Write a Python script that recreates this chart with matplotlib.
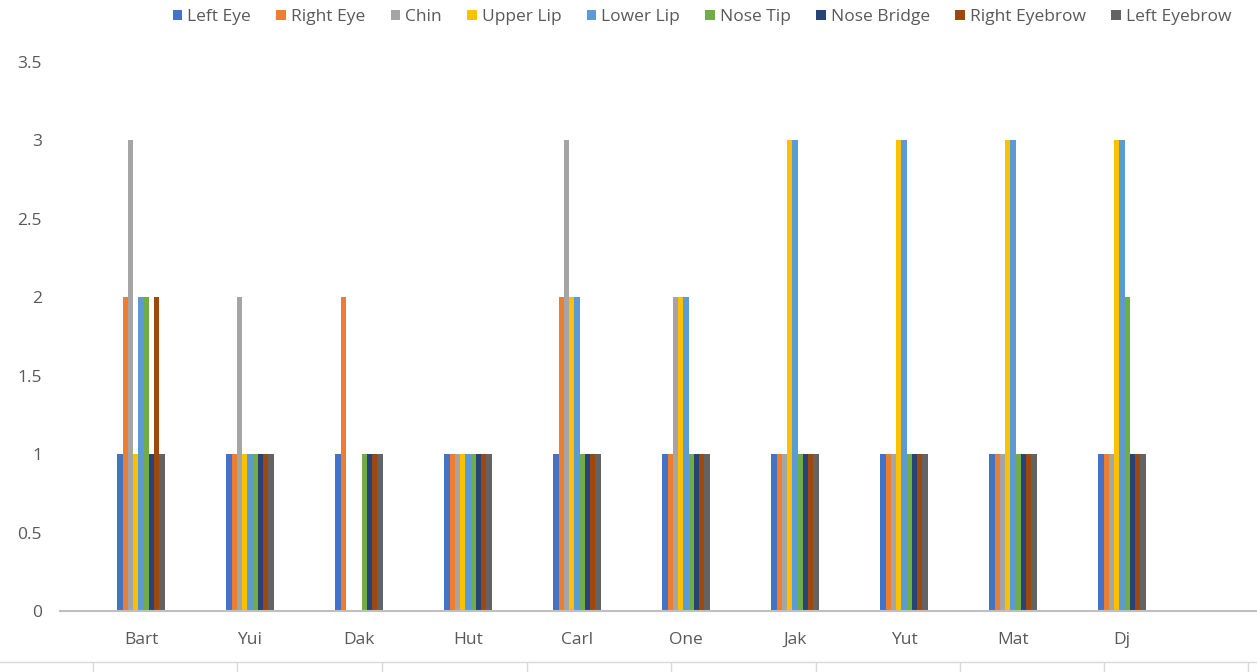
import matplotlib
matplotlib.use("Agg")
import matplotlib.pyplot as plt
from matplotlib.lines import Line2D
from matplotlib.patches import Patch
import numpy as np

plt.rcParams['font.family'] = ['Open Sans', 'DejaVu Sans']

people = ["Bart", "Yui", "Dak", "Hut", "Carl", "One", "Jak", "Yut", "Mat", "Dj"]

left_eye      = [1, 1, 1, 1, 1, 1, 1, 1, 1, 1]
right_eye     = [2, 1, 2, 1, 2, 1, 1, 1, 1, 1]
chin          = [3, 2, 0, 1, 3, 2, 1, 1, 1, 1]
upper_lip     = [1, 1, 0, 1, 2, 2, 3, 3, 3, 3]
lower_lip     = [2, 1, 0, 1, 2, 2, 3, 3, 3, 3]
nose_tip      = [2, 1, 1, 1, 1, 1, 1, 1, 1, 2]
nose_bridge   = [1, 1, 1, 1, 1, 1, 1, 1, 1, 1]
right_eyebrow = [2, 1, 1, 1, 1, 1, 1, 1, 1, 1]
left_eyebrow  = [1, 1, 1, 1, 1, 1, 1, 1, 1, 1]

series_names = ["Left Eye", "Right Eye", "Chin", "Upper Lip", "Lower Lip",
                "Nose Tip", "Nose Bridge", "Right Eyebrow", "Left Eyebrow"]
series_values = [left_eye, right_eye, chin, upper_lip, lower_lip,
                 nose_tip, nose_bridge, right_eyebrow, left_eyebrow]
colors = ["#4472C4", "#ED7D31", "#A5A5A5", "#FFC000", "#5B9BD5",
          "#70AD47", "#264478", "#9E480E", "#636363"]

W, H = 1257, 672
fig = plt.figure(figsize=(W / 100, H / 100), dpi=100)
ax = fig.add_axes([60 / W, (H - 611) / H, (W - 60) / W, (611 - 62) / H])

x = np.arange(len(people))
bw = 0.048
n = len(series_names)
for i, (name, vals, c) in enumerate(zip(series_names, series_values, colors)):
    ax.bar(x + (i - (n - 1) / 2) * bw, vals, width=bw, color=c, label=name,
           linewidth=0)

ax.set_ylim(0, 3.5)
ax.set_xlim((60 - 141) / 109, (W - 141) / 109)
ax.set_yticks(np.arange(0, 3.6, 0.5))
ax.set_yticklabels(["0", "0.5", "1", "1.5", "2", "2.5", "3", "3.5"])
ax.set_xticks(x)
ax.set_xticklabels(people)
ax.tick_params(axis='y', length=0, pad=13, labelsize=12.5, labelcolor="#595959")
ax.tick_params(axis='x', length=0, pad=15, labelsize=12.5, labelcolor="#595959")
for s in ["top", "right", "left"]:
    ax.spines[s].set_visible(False)
ax.spines["bottom"].set_color("#BFBFBF")
ax.spines["bottom"].set_linewidth(1.5)

handles = [Patch(facecolor=c, edgecolor='none') for c in colors]
leg = fig.legend(handles, series_names, loc="center", ncol=n,
                 bbox_to_anchor=(702 / W, 1 - 17 / H), frameon=False,
                 fontsize=12.5, handlelength=0.55, handleheight=0.55,
                 handletextpad=0.3, columnspacing=1.45)
for t in leg.get_texts():
    t.set_color("#595959")

# spreadsheet grid beneath the chart
fig.add_artist(Line2D([0, 1], [1 - 662 / H, 1 - 662 / H], color="#D9D9D9", lw=1))
for gx in [93, 237, 382, 527, 671, 816, 960, 1104, 1248]:
    fig.add_artist(Line2D([gx / W, gx / W], [0, 1 - 663 / H], color="#D9D9D9", lw=1))

fig.savefig("out.png", dpi=100)
